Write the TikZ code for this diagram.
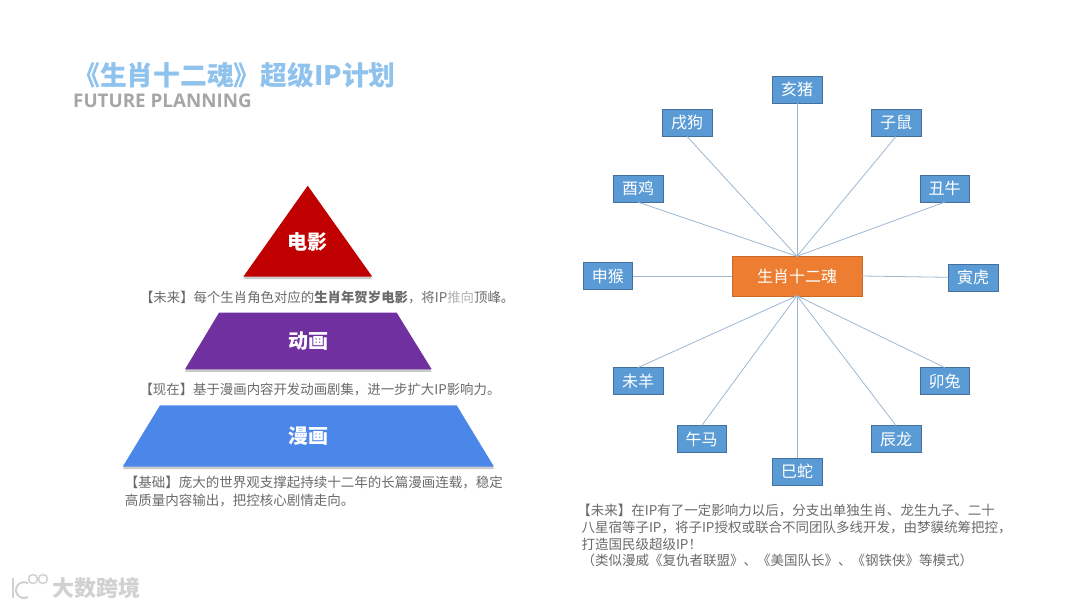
\documentclass[tikz,border=0pt]{standalone}
\usepackage{fontspec}
\usepackage{xcolor}
\setmainfont{Noto Sans CJK SC}
\newfontfamily\latinbold{Open Sans}
\usetikzlibrary{shapes, shadows, positioning}

\definecolor{titleblue}{HTML}{8FC3EE}
\definecolor{movieRed}{HTML}{C00000}
\definecolor{animePurple}{HTML}{7030A0}
\definecolor{comicBlue}{HTML}{4A87E8}
\definecolor{leafBlue}{HTML}{5B9BD5}
\definecolor{leafEdge}{HTML}{41719C}
\definecolor{hubOrange}{HTML}{ED7D31}
\definecolor{bodyGray}{HTML}{6A6A6A}
\definecolor{spokeBlue}{HTML}{9DB7D2}

\begin{document}
\begin{tikzpicture}[
    x=1pt, y=-1pt,
    leaf/.style={rectangle, draw=leafEdge, fill=leafBlue, text=white, minimum width=49.5pt,
                minimum height=27pt, inner sep=0pt, outer sep=0pt,
                font=\fontsize{16}{16}\selectfont},
    hub/.style={rectangle, draw=hubOrange!85!black, fill=hubOrange, text=white, minimum width=129.5pt,
                minimum height=39.5pt, inner sep=0pt, outer sep=0pt,
                font=\fontsize{16}{16}\selectfont},
    level/.style={drop shadow={shadow xshift=0pt, shadow yshift=-2.5pt, opacity=0.35, fill=black!60}},
    leveltext/.style={inner sep=0pt, text=white, font=\fontsize{20}{20}\selectfont\bfseries},
    caption/.style={inner sep=0pt, outer sep=0pt, align=left, text=bodyGray,
                font=\fontsize{13.4}{16.6}\selectfont},
    spoke/.style={draw=spokeBlue, line width=0.8pt}
]
\useasboundingbox (0,0) rectangle (1080,608);

% === TITLE ===
\node[inner sep=0pt, anchor=west, text=titleblue, font=\fontsize{26.8}{26.8}\selectfont\bfseries] (title) at (73,75) {《生肖十二魂》超级IP计划};
\node[inner sep=0pt, anchor=west, text=black!35, font=\fontsize{18.8}{18.8}\selectfont\latinbold\bfseries] (subtitle) at (73,101) {FUTURE PLANNING};

% === PYRAMID ===
\fill[level, movieRed] (307.7,185.7) -- (372.3,276.7) -- (243.3,276.7) -- cycle;
\fill[level, animePurple] (219,312.7) -- (396.7,312.7) -- (431.7,369.3) -- (185,369.3) -- cycle;
\fill[level, comicBlue] (160,405.3) -- (456.7,405.3) -- (494,466.7) -- (122.7,466.7) -- cycle;

\node[leveltext] (movie) at (307.7,241.7) {电影};
\node[leveltext] (anime) at (308.4,341) {动画};
\node[leveltext] (comic) at (308.4,436) {漫画};

\node[caption] (moviecap) at (327.2,297.3) {【未来】每个生肖角色对应的\textbf{生肖年贺岁电影}，将IP{\color{black!30}推向}顶峰。};
\node[caption] (animecap) at (320,389.7) {【现在】基于漫画内容开发动画剧集，进一步扩大IP影响力。};
\node[caption, font=\fontsize{13.5}{17.5}\selectfont] (comiccap) at (313.9,491.7) {【基础】庞大的世界观支撑起持续十二年的长篇漫画连载，稳定\\高质量内容输出，把控核心剧情走向。};

% === STAR ===
\node[hub] (hub) at (797,276) {生肖十二魂};
\node[leaf, above=153.5pt of hub] (hai) {亥猪};
\node[leaf, above=119.8pt of hub, xshift=-110pt] (xu) {戌狗};
\node[leaf, above=119.8pt of hub, xshift=99pt] (zi) {子鼠};
\node[leaf, above=54.1pt of hub, xshift=-159pt] (you) {酉鸡};
\node[leaf, above=54.1pt of hub, xshift=147.7pt] (chou) {丑牛};
\node[leaf, left=99.6pt of hub] (shen) {申猴};
\node[leaf, right=86.6pt of hub, yshift=-1.3pt] (yin) {寅虎};
\node[leaf, below=71.8pt of hub, xshift=-159pt] (wei) {未羊};
\node[leaf, below=71.8pt of hub, xshift=147.7pt] (mao) {卯兔};
\node[leaf, below=129.8pt of hub, xshift=-95.3pt] (wu) {午马};
\node[leaf, below=129.8pt of hub, xshift=99pt] (chen) {辰龙};
\node[leaf, below=162.1pt of hub] (si) {巳蛇};

% === SPOKES ===
\draw[spoke] (hub.north) -- (hai.south);
\draw[spoke] (hub.north) -- (xu.south);
\draw[spoke] (hub.north) -- (zi.south);
\draw[spoke] (hub.north) -- (you.south);
\draw[spoke] (hub.north) -- (chou.south);
\draw[spoke] (hub.west) -- (shen.east);
\draw[spoke] (hub.east) -- (yin.west);
\draw[spoke] (hub.south) -- (wei.north);
\draw[spoke] (hub.south) -- (mao.north);
\draw[spoke] (hub.south) -- (wu.north);
\draw[spoke] (hub.south) -- (chen.north);
\draw[spoke] (hub.south) -- (si.north);

\node[caption, anchor=north west, font=\fontsize{13.5}{16.6}\selectfont] (starcap) at (581.5,504.5) {\hspace*{-0.3em}【未来】在IP有了一定影响力以后，分支出单独生肖、龙生九子、二十\\八星宿等子IP，将子IP授权或联合不同团队多线开发，由梦貘统筹把控，\\打造国民级超级IP！\\（类似漫威《复仇者联盟》、《美国队长》、《钢铁侠》等模式）};

% === WATERMARK ===
\node[inner sep=0pt, anchor=west, text=black!18, font=\fontsize{22}{22}\selectfont\bfseries] (mark) at (52,588) {大数跨境};
\draw[black!18, line width=2pt] (12.5,578) -- (12.5,598);
\draw[black!18, line width=2pt] (28,597) arc (60:300:8);
\draw[black!18, line width=1.5pt] (33,579) circle (4.5);
\draw[black!18, line width=1.5pt] (43,579) circle (4.5);

\end{tikzpicture}
\end{document}
